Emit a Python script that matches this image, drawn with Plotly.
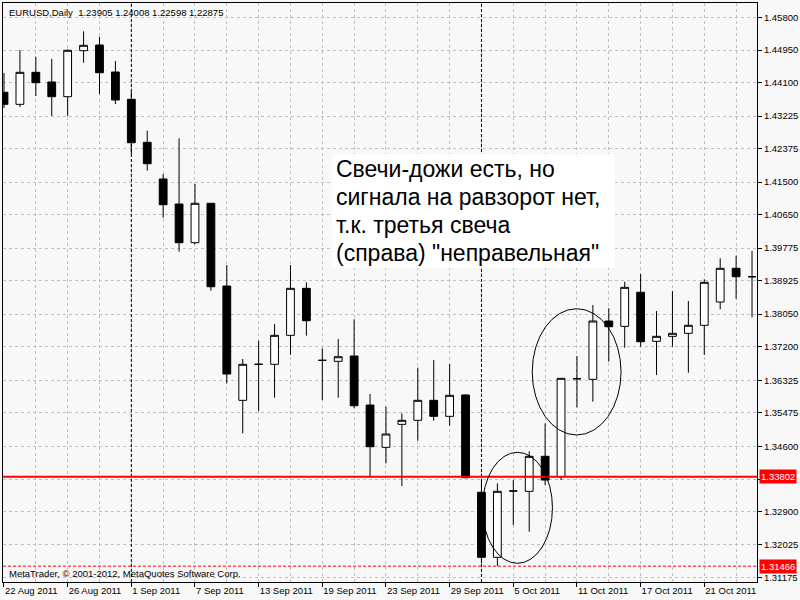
import plotly.graph_objects as go

dates = ["22 Aug", "23 Aug", "24 Aug", "25 Aug", "26 Aug", "29 Aug", "30 Aug", "31 Aug",
         "1 Sep", "2 Sep", "5 Sep", "6 Sep", "7 Sep", "8 Sep", "9 Sep", "12 Sep",
         "13 Sep", "14 Sep", "15 Sep", "16 Sep", "19 Sep", "20 Sep", "21 Sep", "22 Sep",
         "23 Sep", "26 Sep", "27 Sep", "28 Sep", "29 Sep", "30 Sep", "3 Oct", "4 Oct",
         "5 Oct", "6 Oct", "7 Oct", "10 Oct", "11 Oct", "12 Oct", "13 Oct", "14 Oct",
         "17 Oct", "18 Oct", "19 Oct", "20 Oct", "21 Oct", "24 Oct", "25 Oct", "26 Oct"]

open_ = [1.43846, 1.43532, 1.44368, 1.44115, 1.43731, 1.44933, 1.45081, 1.44376,
         1.43663, 1.42539, 1.41581, 1.40928, 1.39917, 1.40946, 1.38785, 1.35799,
         1.36740, 1.36740, 1.37497, 1.38725, 1.36844, 1.36818, 1.36957, 1.35676,
         1.34571, 1.35172, 1.35277, 1.35799, 1.35381, 1.35938, 1.33396, 1.31698,
         1.33430, 1.33422, 1.34336, 1.33803, 1.36363, 1.36348, 1.37871, 1.37732,
         1.38621, 1.37341, 1.37471, 1.37550, 1.37759, 1.38367, 1.39248, 1.39028]
high = [1.44350, 1.44951, 1.44776, 1.44716, 1.44969, 1.45439, 1.45298, 1.44663,
        1.43861, 1.42843, 1.41711, 1.42644, 1.41450, 1.40954, 1.39334, 1.36878,
        1.37356, 1.37793, 1.39334, 1.38882, 1.37158, 1.37401, 1.37915, 1.35964,
        1.35632, 1.35460, 1.36651, 1.36852, 1.36748, 1.35956, 1.33717, 1.33631,
        1.33717, 1.34467, 1.35198, 1.36382, 1.36957, 1.38289, 1.38203, 1.38898,
        1.39099, 1.38132, 1.38655, 1.38393, 1.38960, 1.39509, 1.39577, 1.39700]
low = [1.43436, 1.43462, 1.43749, 1.43227, 1.43227, 1.44619, 1.43801, 1.43540,
       1.42234, 1.41798, 1.40570, 1.39681, 1.39875, 1.38663, 1.36243, 1.34937,
       1.35520, 1.35867, 1.36991, 1.37487, 1.35807, 1.35867, 1.35590, 1.33795,
       1.34153, 1.33560, 1.34744, 1.35266, 1.35136, 1.33769, 1.31541, 1.31466,
       1.32542, 1.32366, 1.33586, 1.33717, 1.35616, 1.35763, 1.36808, 1.37173,
       1.37200, 1.36460, 1.37200, 1.36520, 1.36983, 1.38177, 1.38453, 1.37968]
close = [1.43532, 1.44368, 1.44097, 1.43731, 1.44943, 1.45074, 1.44358, 1.43645,
         1.42529, 1.41980, 1.40909, 1.39917, 1.40946, 1.38767, 1.36486, 1.36740,
         1.36740, 1.37497, 1.38725, 1.37879, 1.36844, 1.36938, 1.35658, 1.34587,
         1.34919, 1.35277, 1.35799, 1.35381, 1.35930, 1.33777, 1.31698, 1.33422,
         1.33430, 1.34336, 1.33717, 1.36374, 1.36363, 1.37871, 1.37722, 1.38751,
         1.37330, 1.37471, 1.37550, 1.37759, 1.38882, 1.39248, 1.39028, 1.39028]

x_tick_idx = [0, 4, 8, 12, 16, 20, 24, 28, 32, 36, 40, 44]
x_tick_text = ["22 Aug 2011", "26 Aug 2011", "1 Sep 2011", "7 Sep 2011", "13 Sep 2011",
               "19 Sep 2011", "23 Sep 2011", "29 Sep 2011", "5 Oct 2011", "11 Oct 2011",
               "17 Oct 2011", "21 Oct 2011"]
x_minor_idx = [2, 6, 10, 14, 18, 22, 26, 30, 34, 38, 42, 46]
separator_idx = [8, 30]

y_tick_vals = [1.45800, 1.44950, 1.44100, 1.43225, 1.42375, 1.41500, 1.40650, 1.39775,
               1.38925, 1.38050, 1.37200, 1.36325, 1.35475, 1.34600, 1.33738, 1.32900,
               1.32025, 1.31175]
y_tick_text = ["1.45800", "1.44950", "1.44100", "1.43225", "1.42375", "1.41500", "1.40650",
               "1.39775", "1.38925", "1.38050", "1.37200", "1.36325", "1.35475", "1.34600",
               "", "1.32900", "1.32025", "1.31175"]

level_line = 1.33802
low_line = 1.31466

header = "EURUSD,Daily  1.23905 1.24008 1.22598 1.22875"
footer = "MetaTrader, © 2001-2012, MetaQuotes Software Corp."
note_lines = ["Свечи-дожи есть, но", "сигнала на равзорот нет,", "т.к. третья свеча",
              '(справа) "неправельная"']
note_line_y = [1.41855, 1.41116, 1.40376, 1.39637]
note_box = (20.625, 38.375, 1.39256, 1.42234)
note_x = 20.8125

# ellipse regions (candle index, price)
ellipses = [(30.06, 34.46, 1.31541, 1.34441), (33.19, 38.77, 1.34893, 1.38192)]

small_font = dict(family="Liberation Sans, Arial, sans-serif", size=9.5, color="black")
grid_col = "#c0c0c0"
bg = "#f8f8f8"

x = list(range(len(dates)))

fig = go.Figure(go.Candlestick(
    x=x, open=open_, high=high, low=low, close=close,
    increasing=dict(fillcolor="white", line=dict(color="black", width=1)),
    decreasing=dict(fillcolor="black", line=dict(color="black", width=1)),
    text=dates, hoverinfo="text+y", showlegend=False,
))

shapes = []
for s in separator_idx:
    shapes.append(dict(type="line", xref="x", yref="paper", x0=s, x1=s, y0=0, y1=1,
                       line=dict(color="black", width=1, dash="3px,2px"), layer="above"))
shapes.append(dict(type="line", xref="paper", yref="y", x0=0, x1=1, y0=level_line, y1=level_line,
                   line=dict(color="#ff0000", width=2), layer="above"))
shapes.append(dict(type="line", xref="paper", yref="y", x0=0, x1=1, y0=low_line, y1=low_line,
                   line=dict(color="#ff0000", width=1, dash="3px,2px"), layer="above"))
for (ex0, ex1, ey0, ey1) in ellipses:
    shapes.append(dict(type="circle", xref="x", yref="y", x0=ex0, x1=ex1, y0=ey0, y1=ey1,
                       line=dict(color="black", width=1), layer="above"))
shapes.append(dict(type="rect", xref="x", yref="y", x0=note_box[0], x1=note_box[1],
                   y0=note_box[2], y1=note_box[3], fillcolor="white",
                   line=dict(width=0), layer="above"))

annotations = [
    dict(text=header, xref="paper", yref="paper", x=0, y=1, xanchor="left", yanchor="top",
         xshift=4, yshift=-2, showarrow=False, font=small_font),
    dict(text=footer, xref="paper", yref="paper", x=0, y=0, xanchor="left", yanchor="bottom",
         xshift=4, yshift=1, showarrow=False, font=small_font),
]
for t, ly in zip(note_lines, note_line_y):
    annotations.append(dict(text=t, xref="x", yref="y", x=note_x, y=ly, xanchor="left",
                            yanchor="middle", align="left", showarrow=False, borderpad=0,
                            font=dict(family="Liberation Sans, Arial, sans-serif", size=23,
                                      color="black")))
for v in (level_line, low_line):
    annotations.append(dict(text=f"{v:.5f}", xref="paper", yref="y", x=1, y=v,
                            xanchor="left", yanchor="middle", xshift=2, showarrow=False,
                            bgcolor="#ff0000", borderpad=1,
                            font=dict(family="Liberation Sans, Arial, sans-serif", size=9.5,
                                      color="white")))

fig.update_layout(
    width=800, height=600,
    margin=dict(l=2, r=40, t=3, b=18),
    paper_bgcolor=bg, plot_bgcolor=bg,
    shapes=shapes, annotations=annotations,
    font=small_font,
    xaxis=dict(
        range=[-0.0625, 47.3125], tickmode="array", tickvals=x_tick_idx, ticktext=x_tick_text,
        ticks="outside", ticklen=4, tickcolor="black", ticklabelposition="outside right",
        showline=True, linecolor="black", linewidth=1, mirror=True,
        showgrid=True, gridcolor=grid_col, griddash="3px,3px", gridwidth=1, zeroline=False,
        minor=dict(tickvals=x_minor_idx, showgrid=True, gridcolor=grid_col, griddash="3px,3px",
                   ticks=""),
        rangeslider=dict(visible=False), tickfont=small_font, fixedrange=True,
    ),
    yaxis=dict(
        side="right", range=[1.31053, 1.46179], tickmode="array", tickvals=y_tick_vals,
        ticktext=y_tick_text, ticks="outside", ticklen=4, tickcolor="black",
        showline=True, linecolor="black", linewidth=1, mirror=True,
        showgrid=True, gridcolor=grid_col, griddash="3px,3px", gridwidth=1, zeroline=False,
        tickfont=small_font, fixedrange=True,
    ),
)

fig.write_html("out.html", config={"displayModeBar": False},
               post_script="document.body.style.margin='0px';")
